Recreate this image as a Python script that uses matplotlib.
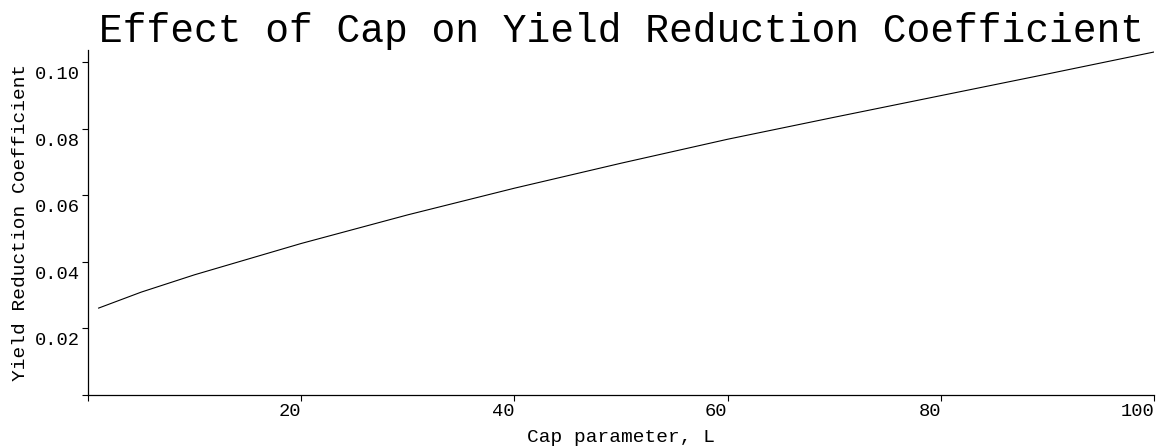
import matplotlib
matplotlib.use("Agg")
import matplotlib.pyplot as plt
import matplotlib.transforms as mtransforms

# values
cap_L = [1, 5, 10, 15, 20, 30, 40, 50, 60, 70, 80, 90, 100]
coeff = [0.0261, 0.0309, 0.0361, 0.0408, 0.0455, 0.0541, 0.0621, 0.0696,
         0.0768, 0.0834, 0.0899, 0.0964, 0.1030]

x_ticks = [0, 20, 40, 60, 80, 100]
x_tick_labels = ["", "20", "40", "60", "80", "100"]
y_ticks = [0, 0.02, 0.04, 0.06, 0.08, 0.10]
y_tick_labels = ["", "0.02", "0.04", "0.06", "0.08", "0.10"]

plt.rcParams["font.family"] = ["Liberation Mono", "DejaVu Sans Mono"]

fig = plt.figure(figsize=(11.65, 4.48), dpi=100)
ax = fig.add_axes([0.0755, 0.1183, 0.9151, 0.7701])

ax.plot(cap_L, coeff, color="black", linewidth=0.8)

ax.set_xlim(0, 100)
ax.set_ylim(0, 0.1036)

for side in ["top", "right"]:
    ax.spines[side].set_visible(False)
for side in ["left", "bottom"]:
    ax.spines[side].set_linewidth(0.9)

ax.set_xticks(x_ticks)
ax.set_xticklabels(x_tick_labels, ha="right")
ax.set_yticks(y_ticks)
ax.set_yticklabels(y_tick_labels, va="top")
ax.tick_params(direction="out", length=4, width=0.8, labelsize=13.5, pad=2)

# Maple-style: y labels sit a little below their tick
shift = mtransforms.ScaledTranslation(0, -4 / 100, fig.dpi_scale_trans)
for lbl in ax.get_yticklabels():
    lbl.set_transform(lbl.get_transform() + shift)

ax.set_xlabel("Cap parameter, L", fontsize=14, labelpad=6)
ax.set_ylabel("Yield Reduction Coefficient", fontsize=14, labelpad=4)
ax.set_title("Effect of Cap on Yield Reduction Coefficient", fontsize=28.5, pad=6)

fig.savefig("out.png", dpi=100)
